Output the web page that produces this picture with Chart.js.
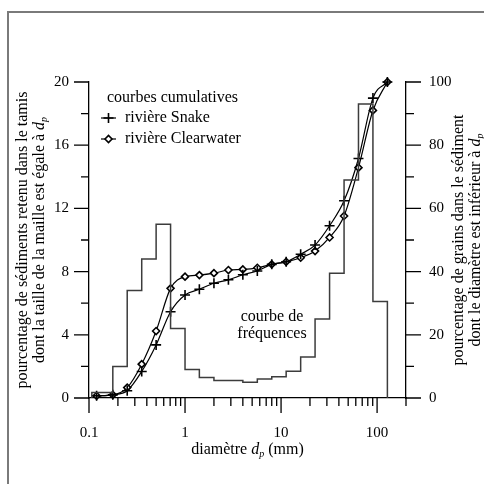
<!DOCTYPE html>
<html>
<head>
<meta charset="utf-8">
<script src="https://cdn.jsdelivr.net/npm/chart.js@4/dist/chart.umd.min.js"></script>
<style>
  html, body { margin: 0; padding: 0; background: #fff; }
  #wrap { width: 484px; height: 485px; position: relative; }
</style>
</head>
<body>
<div id="wrap"><canvas id="myChart" width="484" height="485"></canvas></div>
<script>
// grain sizes (mm) where the cumulative curves are sampled
const sizes = [0.12, 0.177, 0.25, 0.354, 0.5, 0.707, 1, 1.41, 2, 2.83, 4, 5.66, 8, 11.3, 16, 22.6, 32, 45.3, 64, 90.5, 128];
const snake = [0.7, 1.0, 2.3, 8.4, 16.8, 27.3, 32.6, 34.4, 36.3, 37.4, 39.0, 40.2, 42.3, 43.1, 45.5, 48.4, 54.5, 62.4, 75.8, 94.9, 100];
const clearwater = [0.7, 1.0, 3.3, 10.7, 21.2, 34.7, 38.4, 38.9, 39.5, 40.5, 40.7, 41.2, 42.3, 43.1, 44.4, 46.5, 50.8, 57.6, 72.9, 91.0, 100];

// sieve classes for the frequency histogram (edges in mm, % retained)
const binEdges = [0.107, 0.177, 0.25, 0.354, 0.5, 0.707, 1, 1.41, 2, 2.83, 4, 5.66, 8, 11.3, 16, 22.6, 32, 45.3, 64, 90.5, 128];
const frequencies = [0.35, 2.0, 6.8, 8.8, 11.0, 4.4, 1.8, 1.3, 1.1, 1.1, 1.0, 1.2, 1.35, 1.7, 2.6, 5.0, 7.9, 13.8, 18.6, 6.1];

const xTicks = [0.1, 1, 10, 100];
const leftTicks = [0, 4, 8, 12, 16, 20];
const rightTicks = [0, 20, 40, 60, 80, 100];

const FONT = 'Liberation Serif';

// outline of the histogram as a closed step path
const histPoints = [{ x: binEdges[0], y: 0 }];
for (let i = 0; i < frequencies.length; i++) {
  histPoints.push({ x: binEdges[i], y: frequencies[i] });
  histPoints.push({ x: binEdges[i + 1], y: frequencies[i] });
}
histPoints.push({ x: binEdges[binEdges.length - 1], y: 0 });

const toXY = (vals) => sizes.map((s, i) => ({ x: s, y: vals[i] }));

// text with an italic d and subscript p
function richParts(before, after, size) {
  return [
    { t: before, font: `${size}px "${FONT}"`, dy: 0 },
    { t: 'd', font: `italic ${size}px "${FONT}"`, dy: 0 },
    { t: 'p', font: `italic ${Math.round(size * 0.65)}px "${FONT}"`, dy: size * 0.25 },
    { t: after, font: `${size}px "${FONT}"`, dy: 0 }
  ];
}
function drawParts(ctx, parts, x, y) {
  let w = 0;
  parts.forEach(p => { ctx.font = p.font; w += ctx.measureText(p.t).width; });
  let cx = x - w / 2;
  ctx.textAlign = 'left';
  ctx.textBaseline = 'middle';
  parts.forEach(p => {
    ctx.font = p.font;
    ctx.fillText(p.t, cx, y + p.dy);
    cx += ctx.measureText(p.t).width;
  });
}

const decor = {
  id: 'decor',
  beforeDraw(chart) {
    const ctx = chart.ctx;
    ctx.save();
    ctx.strokeStyle = '#7a7a7a';
    ctx.lineWidth = 2;
    ctx.beginPath();
    ctx.moveTo(8, 484);
    ctx.lineTo(8, 12);
    ctx.lineTo(484, 12);
    ctx.stroke();
    ctx.restore();
  },
  afterDraw(chart) {
    const ctx = chart.ctx;
    const { x, yL, yR } = chart.scales;
    const area = chart.chartArea;
    ctx.save();
    ctx.strokeStyle = '#000';
    ctx.fillStyle = '#000';
    ctx.lineWidth = 1.3;

    // tick marks (outside), long on labelled values
    ctx.beginPath();
    for (let d = 0.1; d <= 100; d *= 10) {
      for (let k = 1; k <= 9; k++) {
        const v = k * d;
        if (v > 200.001) break;
        const px = x.getPixelForValue(v);
        ctx.moveTo(px, area.bottom);
        ctx.lineTo(px, area.bottom + (k === 1 ? 15 : 8));
      }
    }
    for (let v = 0; v <= 20; v += 2) {
      const py = yL.getPixelForValue(v);
      ctx.moveTo(area.left, py);
      ctx.lineTo(area.left - (leftTicks.includes(v) ? 15 : 8), py);
    }
    for (let v = 0; v <= 100; v += 10) {
      const py = yR.getPixelForValue(v);
      ctx.moveTo(area.right, py);
      ctx.lineTo(area.right + (rightTicks.includes(v) ? 15 : 8), py);
    }
    ctx.stroke();

    // axis titles
    drawParts(ctx, richParts('diamètre ', ' (mm)', 16), (area.left + area.right) / 2, 450);

    const midY = (area.top + area.bottom) / 2;
    ctx.save();
    ctx.translate(23, midY);
    ctx.rotate(-Math.PI / 2);
    drawParts(ctx, [{ t: 'pourcentage de sédiments retenu dans le tamis', font: `16px "${FONT}"`, dy: 0 }], 0, 0);
    drawParts(ctx, richParts('dont la taille de la maille est égale à ', '', 16), 0, 17);
    ctx.restore();

    ctx.save();
    ctx.translate(459, midY);
    ctx.rotate(-Math.PI / 2);
    drawParts(ctx, [{ t: 'pourcentage de grains dans le sédiment', font: `16px "${FONT}"`, dy: 0 }], 0, 0);
    drawParts(ctx, richParts('dont le diamètre est inférieur à ', '', 16), 0, 17);
    ctx.restore();

    // annotation for the histogram
    ctx.font = `16px "${FONT}"`;
    ctx.textAlign = 'center';
    ctx.textBaseline = 'middle';
    ctx.fillText('courbe de', 272, 317);
    ctx.fillText('fréquences', 272, 334);

    // legend for the cumulative curves
    ctx.textAlign = 'left';
    ctx.fillText('courbes cumulatives', 107, 98);
    const rows = [chart.data.datasets[1], chart.data.datasets[2]];
    rows.forEach((ds, i) => {
      const ly = 118 + i * 21;
      ctx.strokeStyle = ds.borderColor;
      ctx.lineWidth = ds.borderWidth;
      ctx.beginPath();
      ctx.moveTo(101, ly);
      ctx.lineTo(116, ly);
      ctx.stroke();
      ctx.fillStyle = ds.pointBackgroundColor;
      ctx.strokeStyle = ds.pointBorderColor;
      ctx.lineWidth = ds.pointBorderWidth;
      Chart.helpers.drawPoint(ctx, {
        pointStyle: ds.pointStyle, radius: ds.pointRadius, borderWidth: ds.pointBorderWidth, rotation: 0
      }, 108.5, ly);
      ctx.fillStyle = '#000';
      ctx.fillText(ds.label, 125, ly);
    });
    ctx.restore();
  }
};

const ctx = document.getElementById('myChart').getContext('2d');
Chart.defaults.font.family = FONT;
Chart.defaults.font.size = 15;
Chart.defaults.color = '#000';

new Chart(ctx, {
  type: 'line',
  data: {
    datasets: [
      {
        label: 'courbe de fréquences',
        data: histPoints,
        yAxisID: 'yL',
        borderColor: '#3c3c3c',
        borderWidth: 1.5,
        pointRadius: 0,
        tension: 0,
        fill: false,
        clip: false
      },
      {
        label: 'rivière Snake',
        data: toXY(snake),
        yAxisID: 'yR',
        borderColor: '#000',
        borderWidth: 1.2,
        pointStyle: 'cross',
        pointRadius: 5,
        pointBorderWidth: 1.6,
        pointBorderColor: '#000',
        pointBackgroundColor: '#000',
        cubicInterpolationMode: 'monotone',
        fill: false,
        clip: false
      },
      {
        label: 'rivière Clearwater',
        data: toXY(clearwater),
        yAxisID: 'yR',
        borderColor: '#000',
        borderWidth: 1.2,
        pointStyle: 'rectRot',
        pointRadius: 3.5,
        pointBorderWidth: 1.6,
        pointBorderColor: '#000',
        pointBackgroundColor: '#fff',
        cubicInterpolationMode: 'monotone',
        fill: false,
        clip: false
      }
    ]
  },
  options: {
    responsive: false,
    animation: false,
    layout: { padding: { top: 82, left: 0, right: 0, bottom: 0 } },
    plugins: {
      legend: { display: false },
      tooltip: { enabled: false }
    },
    scales: {
      x: {
        type: 'logarithmic',
        min: 0.1,
        max: 200,
        afterBuildTicks: (scale) => { scale.ticks = xTicks.map(v => ({ value: v })); },
        afterFit: (scale) => { scale.height = 87; },
        grid: { display: false, drawTicks: false },
        border: { display: true, color: '#000', width: 1.3 },
        ticks: { padding: 26, maxRotation: 0, autoSkip: false, callback: (v) => String(v) }
      },
      yL: {
        position: 'left',
        min: 0,
        max: 20,
        afterBuildTicks: (scale) => { scale.ticks = leftTicks.map(v => ({ value: v })); },
        afterFit: (scale) => { scale.width = 89; },
        grid: { display: false, drawTicks: false },
        border: { display: true, color: '#000', width: 1.3 },
        ticks: { padding: 20 }
      },
      yR: {
        position: 'right',
        min: 0,
        max: 100,
        afterBuildTicks: (scale) => { scale.ticks = rightTicks.map(v => ({ value: v })); },
        afterFit: (scale) => { scale.width = 78; },
        grid: { display: false, drawTicks: false },
        border: { display: true, color: '#000', width: 1.3 },
        ticks: { padding: 23 }
      }
    }
  },
  plugins: [decor]
});
</script>
</body>
</html>
